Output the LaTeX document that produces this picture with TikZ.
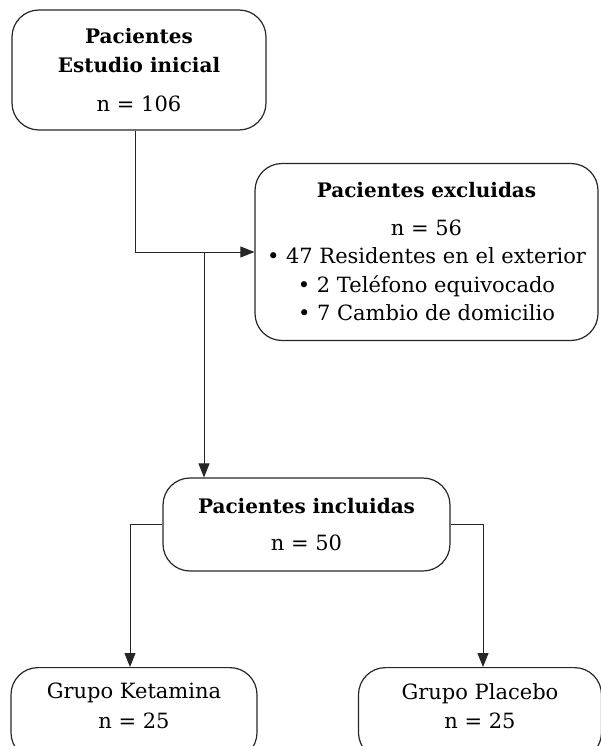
\documentclass[tikz,border=0pt]{standalone}
\usepackage{fontspec}
\setmainfont{DejaVu Serif}
\newcommand\hdtext[1]{{\fontsize{20}{29.5}\selectfont\bfseries #1}}
\usetikzlibrary{arrows.meta}
\begin{document}
\begin{tikzpicture}[x=1pt,y=-1pt,
  box/.style={draw=black!85, line width=1.2pt, rounded corners=27pt, align=center, inner sep=0pt},
  txt/.style={align=center, inner sep=0pt},
  conn/.style={draw=black!85, line width=1pt},
  arr/.style={conn, -{Triangle[length=14pt,width=11pt]}},
  font=\fontsize{21}{29.5}\selectfont]
\useasboundingbox (0,0) rectangle (600,746);
\node[box, minimum width=254, minimum height=120] (top) at (139,70)
  {\hdtext{Pacientes}\\\hdtext{Estudio inicial}\\[9pt] n = 106};
\node[box, minimum width=343, minimum height=177] (excl) at (426.5,252)
  {\hdtext{Pacientes excluidas}\\[8pt] n = 56\\[-1pt] • 47 Residentes en el exterior\\[-1pt] • 2 Teléfono equivocado\\[-1pt] • 7 Cambio de domicilio};
\node[box, minimum width=287, minimum height=93] (incl) at (306.5,524.5)
  {\hdtext{Pacientes incluidas}\\[8pt] n = 50};
\node[box, minimum width=246, minimum height=92, anchor=north] (keta) at (134,667) {};
\node[txt, anchor=north] (ketatxt) at (134,683) {Grupo Ketamina\\n = 25};
\node[box, minimum width=243, minimum height=92, anchor=north] (plac) at (480,667) {};
\node[txt, anchor=north] (plactxt) at (480,683) {Grupo Placebo\\n = 25};
\coordinate (j) at (204,252);
\draw[arr] ([xshift=-4pt]top.south) |- (excl.west);
\draw[arr] (j) -- (j |- incl.north);
\draw[arr] (incl.west) -| ([xshift=-4pt]keta.north);
\draw[arr] (incl.east) -| ([xshift=3pt]plac.north);
\end{tikzpicture}
\end{document}
